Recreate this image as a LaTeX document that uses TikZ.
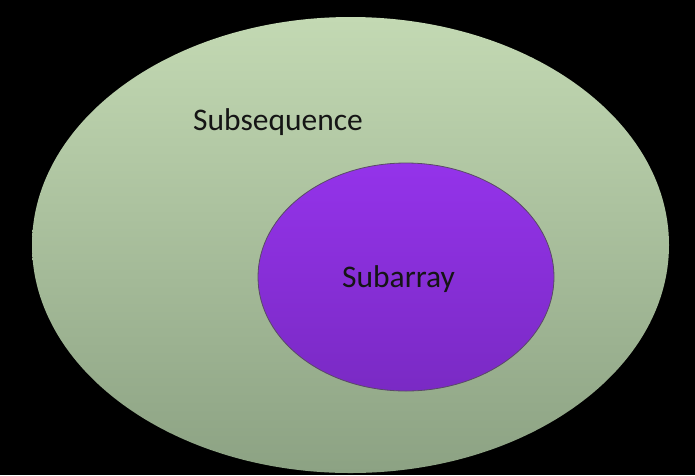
\documentclass[tikz,border=0pt]{standalone}
\usepackage{fontspec}
\setmainfont{Carlito}
\usetikzlibrary{shapes.geometric}
\definecolor{greentop}{HTML}{C3D9B3}
\definecolor{greenbot}{HTML}{8CA283}
\definecolor{purptop}{HTML}{9433EA}
\definecolor{purpbot}{HTML}{7A2AC4}
\definecolor{purpline}{HTML}{5A4A66}
\definecolor{txt}{HTML}{151515}
\tikzset{
  outerset/.style={ellipse, inner sep=0pt, minimum width=637pt, minimum height=456pt, top color=greentop, bottom color=greenbot, draw=none},
  innerset/.style={ellipse, inner sep=0pt, minimum width=296pt, minimum height=228pt, top color=purptop, bottom color=purpbot, draw=purpline, line width=0.8pt},
  lbl/.style={text=txt, font=\fontsize{31.5}{34}\selectfont, inner sep=0pt, anchor=base west}
}
\begin{document}
\begin{tikzpicture}[x=1pt,y=-1pt]
\fill[black] (0,0) rectangle (695,475);
\useasboundingbox (0,0) rectangle (695,475);
\node[outerset] (outer) at (350.5,245) {};
\node[innerset] (inner) at (406,277) {};
\node[lbl] (subseq) at (193,130) {Subsequence};
\node[lbl] (subarr) at (342,287) {Subarray};
\end{tikzpicture}
\end{document}
